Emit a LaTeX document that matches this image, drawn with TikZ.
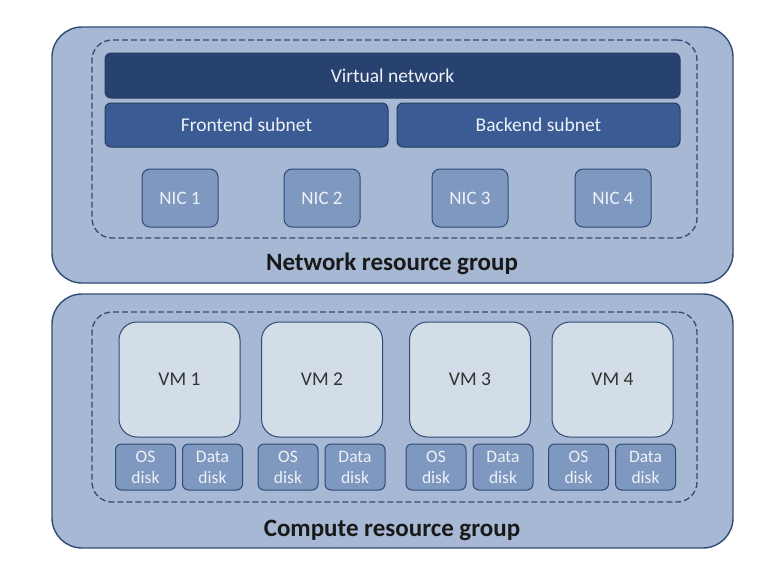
\documentclass[tikz,border=0pt]{standalone}
\usepackage{fontspec}
\setmainfont{Carlito}
\usetikzlibrary{positioning}

\definecolor{rgfill}{HTML}{A6B8D3}
\definecolor{rgline}{HTML}{2F4B78}
\definecolor{vnetfill}{HTML}{27426F}
\definecolor{subfill}{HTML}{3B5B95}
\definecolor{nicfill}{HTML}{7E98C0}
\definecolor{vmfill}{HTML}{D2DDE7}
\definecolor{nictext}{HTML}{EEF2F7}

\tikzset{
  rgbox/.style={draw=rgline, line width=1.4pt, fill=rgfill, rounded corners=30pt,
    minimum width=681pt, inner sep=0pt},
  dashbox/.style={draw=rgline, line width=1.3pt, dash pattern=on 6pt off 3pt,
    rounded corners=20pt, minimum width=605pt, inner sep=0pt},
  vnet/.style={draw=rgline!80!black, line width=1pt, fill=vnetfill, rounded corners=6pt,
    minimum width=575pt, minimum height=45pt, text=nictext, font=\fontsize{19.5}{22}\selectfont},
  subnet/.style={vnet, fill=subfill, minimum width=283pt, minimum height=44pt},
  nic/.style={draw=rgline, line width=1pt, fill=nicfill, rounded corners=8pt,
    minimum width=76pt, minimum height=58pt, text=nictext, font=\fontsize{19}{22}\selectfont},
  vm/.style={draw=rgline, line width=1pt, fill=vmfill, rounded corners=18pt,
    minimum width=121pt, minimum height=115pt, text=black!80, font=\fontsize{19.5}{22}\selectfont},
  disk/.style={draw=rgline, line width=1pt, fill=nicfill, rounded corners=6pt,
    minimum width=60pt, minimum height=46pt, inner sep=0pt, align=center, text=nictext,
    font=\fontsize{17.5}{21}\selectfont},
  grouplabel/.style={text=black!90, font=\bfseries\fontsize{25}{28}\selectfont}
}

\begin{document}
\begin{tikzpicture}[x=1pt, y=-1pt]
  \useasboundingbox (0,0) rectangle (778,570);

  % 网络资源组
  \node[rgbox, minimum height=256pt] (netrg) at (392.5,155) {};
  \node[dashbox, minimum height=198pt] (netdash) at (394.5,139) {};
  \node[vnet] (vnet) at (392.5,75.5) {Virtual network};
  \node[subnet] (front) at (246.5,125) {Frontend subnet};
  \node[subnet] (back) at (538.5,125) {Backend subnet};

  % 网卡
  \foreach \x [count=\i] in {180,322,470,613}
    \node[nic] (nic\i) at (\x,198) {NIC \i};

  \node[grouplabel] (netlabel) at (392,264) {Network resource group};

  % 计算资源组
  \node[rgbox, minimum height=254pt] (comprg) at (392.5,421) {};
  \node[dashbox, minimum height=190pt] (compdash) at (394.5,407) {};

  % 虚拟机和磁盘
  \foreach \x [count=\i] in {179.5,322,470,612.5} {
    \node[vm] (vm\i) at (\x,379.5) {VM \i};
    \node[disk] (os\i) at (\x-34,467) {OS\\disk};
    \node[disk] (data\i) at (\x+33,467) {Data\\disk};
  }

  \node[grouplabel] (complabel) at (392,530) {Compute resource group};
\end{tikzpicture}
\end{document}
